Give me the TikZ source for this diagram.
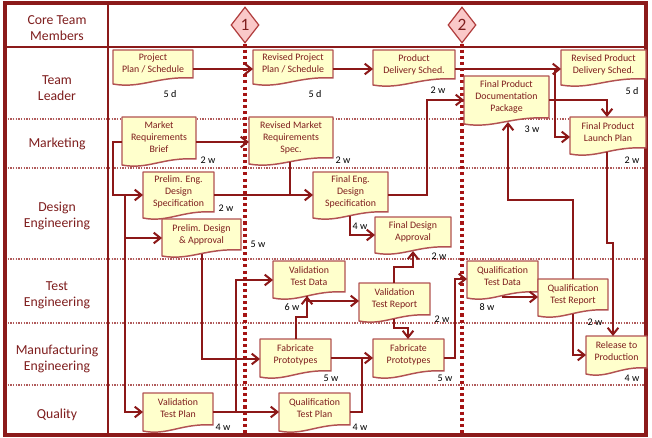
\documentclass[tikz,border=0pt]{standalone}
\usepackage{fontspec}
\setmainfont{Carlito}
\usetikzlibrary{arrows.meta,shapes.geometric}
\definecolor{cframe}{RGB}{139,26,26}
\definecolor{ctxt}{RGB}{127,30,30}
\definecolor{cdocfill}{RGB}{255,255,204}
\definecolor{cdocline}{RGB}{178,82,82}
\definecolor{cconn}{RGB}{140,24,24}
\definecolor{cmsfill}{RGB}{250,200,200}
\definecolor{cmsline}{RGB}{176,60,60}
\definecolor{clanesep}{RGB}{176,90,90}
\definecolor{cmsdot}{RGB}{165,20,20}
\tikzset{
  docshape/.style={fill=cdocfill, draw=cdocline, line width=1.1pt, line join=round},
  doctext/.style={inner sep=0pt, outer sep=0pt, align=center, text=ctxt, font=\fontsize{7.4}{9}\selectfont},
  lanelabel/.style={align=center, text=ctxt, font=\fontsize{10.3}{12}\selectfont},
  durlabel/.style={inner sep=0pt, text=black, font=\fontsize{7.6}{9}\selectfont},
  arrowline/.style={draw=cconn, line width=1.5pt, -{Straight Barb[length=5pt,width=8pt]}},
  plainline/.style={draw=cconn, line width=1.5pt},
  lanesepline/.style={draw=clanesep, line width=0.9pt, dash pattern=on 0.9pt off 1.1pt},
  msdotline/.style={draw=cmsdot, line width=2.3pt, dash pattern=on 2.3pt off 2.3pt},
  framel/.style={draw=cframe, line width=2.3pt},
  msdia/.style={diamond, draw=cmsline, fill=cmsfill, line width=0.9pt, minimum width=21pt, minimum height=27pt, inner sep=0pt, text=ctxt, font=\fontsize{13}{13}\selectfont}
}
\newcommand\mydoc[6]{%
  \draw[docshape] (#2,#3) -- (#4,#3) -- (#4,#5-6) .. controls ({#2+0.55*(#4-#2)},#5-8) and ({#2+0.35*(#4-#2)},#5+5) .. (#2,#5) -- cycle;
  \pgfmathsetmacro\mdw{(#4-#2)*0.75}%
  \pgfmathsetmacro\mdh{(#5-2-#3)*0.75}%
  \node[doctext, minimum width=\mdw pt, minimum height=\mdh pt] (#1) at ({(#2+#4)/2},{(#3+#5-2)/2}) {#6\rule[-4pt]{0pt}{4pt}};
}
\begin{document}
\begin{tikzpicture}[x=0.75pt,y=-0.75pt]
\useasboundingbox (0,0) rectangle (652,438);
\fill[white] (0,0) rectangle (652,438);
% lane separators
\foreach \yy in {119,168,259,323,385} \draw[lanesepline] (5,\yy) -- (646,\yy);
% frame
\draw[framel] (5,3) rectangle (646,435);
\draw[framel, line width=2pt] (5,47) -- (646,47);
\draw[framel, line width=2pt] (108,3) -- (108,435);
% milestones
\node[msdia] (ms1) at (245,25) {1};
\node[msdia] (ms2) at (462,25) {2};
\coordinate (ms1end) at (245,434);
\coordinate (ms2end) at (462,434);
\draw[msdotline] (ms1.south) -- (ms1end);
\draw[msdotline] (ms2.south) -- (ms2end);
% lane labels
\node[lanelabel] (l0) at (57,28) {Core Team\\Members};
\node[lanelabel] (l1) at (57,88) {Team\\Leader};
\node[lanelabel] (l2) at (57,144) {Marketing};
\node[lanelabel] (l3) at (57,216) {Design\\Engineering};
\node[lanelabel] (l4) at (57,295) {Test\\Engineering};
\node[lanelabel] (l5) at (57,359) {Manufacturing\\Engineering};
\node[lanelabel] (l6) at (57,415) {Quality};
% documents
\mydoc{pp}{113}{50}{193}{84}{Project\\Plan / Schedule}
\mydoc{rpp}{253}{50}{333}{84}{Revised Project\\Plan / Schedule}
\mydoc{pds}{373}{50}{455}{85}{Product\\Delivery Sched.}
\mydoc{rpds}{561}{50}{646}{85}{Revised Product\\Delivery Sched.}
\mydoc{fpdp}{464}{76}{549}{124}{Final Product\\Documentation\\Package}
\mydoc{mrb}{122}{117}{196}{165}{Market\\Requirements\\Brief}
\mydoc{rmrs}{249}{117}{333}{164}{Revised Market\\Requirements\\Spec.}
\mydoc{fplp}{570}{117}{646}{154}{Final Product\\Launch Plan}
\mydoc{pes}{143}{172}{214}{218}{Prelim. Eng.\\Design\\Specification}
\mydoc{pda}{162}{219}{241}{256}{Prelim. Design\\\& Approval}
\mydoc{fes}{313}{172}{388}{218}{Final Eng.\\Design\\Specification}
\mydoc{fda}{375}{217}{451}{253}{Final Design\\Approval}
\mydoc{vtd}{273}{261}{345}{298}{Validation\\Test Data}
\mydoc{vtr}{359}{283}{430}{321}{Validation\\Test Report}
\mydoc{qtd}{467}{261}{538}{298}{Qualification\\Test Data}
\mydoc{qtr}{538}{279}{608}{316}{Qualification\\Test Report}
\mydoc{fpa}{260}{339}{331}{377}{Fabricate\\Prototypes}
\mydoc{fpb}{373}{339}{444}{377}{Fabricate\\Prototypes}
\mydoc{rtp}{586}{336}{647}{374}{Release to\\Production}
\mydoc{vtp}{143}{393}{213}{431}{Validation\\Test Plan}
\mydoc{qtp}{279}{393}{350}{431}{Qualification\\Test Plan}
% durations
\node[durlabel] (dpp) at (170,94) {5 d};
\node[durlabel] (drpp) at (315,94) {5 d};
\node[durlabel] (dpds) at (438,90) {2 w};
\node[durlabel] (drpds) at (632,91) {5 d};
\node[durlabel] (dfpdp) at (532,129) {3 w};
\node[durlabel] (dmrb) at (208,160) {2 w};
\node[durlabel] (drmrs) at (343,160) {2 w};
\node[durlabel] (dfplp) at (632,160) {2 w};
\node[durlabel] (dpes) at (226,208) {2 w};
\node[durlabel] (dpda) at (258,244) {5 w};
\node[durlabel] (dfes) at (360,226) {4 w};
\node[durlabel] (dfda) at (439,256) {2 w};
\node[durlabel] (dvtd) at (292,307) {6 w};
\node[durlabel] (dvtr) at (442,319) {2 w};
\node[durlabel] (dqtd) at (487,307) {8 w};
\node[durlabel] (dqtr) at (595,322) {2 w};
\node[durlabel] (dfpa) at (331,378) {5 w};
\node[durlabel] (dfpb) at (445,378) {5 w};
\node[durlabel] (drtp) at (632,378) {4 w};
\node[durlabel] (dvtp) at (223,427) {4 w};
\node[durlabel] (dqtp) at (360,427) {4 w};
% connectors
\draw[arrowline] (pp.east |- 0,69) -- (rpp.west |- 0,69);
\draw[arrowline] (rpp.east |- 0,69) -- (pds.west |- 0,69);
\draw[arrowline] (pds.east |- 0,69) -- (rpds.west |- 0,69);
\draw[arrowline] (555,69) |- (fplp.west |- 0,137);
\draw[arrowline] (fpdp.east |- 0,100) -| (fplp.north -| 607,0);
\draw[arrowline] (fes.east |- 0,195) -- (427,195) |- (fpdp.west |- 0,100);
\draw[arrowline] (qtr.north -| 573,0) -- (573,200) -| (fpdp.south -| 508,0);
\draw[arrowline] (fplp.south -| 607,0) -- (607,243) -- (613,243) -- (rtp.north -| 613,0);
\draw[arrowline] (qtr.south -| 573,0) |- (rtp.west |- 0,355);
\draw[arrowline] (qtd.south -| 503,0) |- (qtr.west |- 0,297);
\draw[arrowline] (fpb.east |- 0,358) -- (455,358) |- (qtd.west |- 0,279);
\draw[arrowline] (vtr.south -| 394,0) -- (394,328) -| (fpb.north -| 408,0);
\draw[arrowline] (vtr.north -| 394,0) -- (394,267) -| (fda.south -| 413,0);
\draw[arrowline] (fpa.north -| 296,0) -- (296,317) -| (vtd.south -| 307,0);
\draw[arrowline] (vtd.south -| 307,0) |- (vtr.west |- 0,301);
\draw[arrowline] (fes.south -| 350,0) |- (fda.west |- 0,235);
\draw[arrowline] (pes.east |- 0,195) -- (fes.west |- 0,195);
\draw[plainline] (rmrs.south -| 290,0) -- (290,195);
\draw[arrowline] (mrb.east |- 0,142) -- (rmrs.west |- 0,142);
\draw[arrowline] (mrb.west |- 0,142) -- (113,142) |- (pes.west |- 0,195);
\draw[arrowline] (125,195) |- (pda.west |- 0,238);
\draw[arrowline] (125,238) |- (vtp.west |- 0,412);
\draw[arrowline] (pda.south -| 202,0) |- (fpa.west |- 0,359);
\draw[arrowline] (vtp.east |- 0,412) -- (qtp.west |- 0,412);
\draw[arrowline] (236,412) |- (vtd.west |- 0,280);
\draw[arrowline] (fpa.east |- 0,358) -- (fpb.west |- 0,358);
\draw[plainline] (qtp.east |- 0,412) -| (362,358);
\end{tikzpicture}
\end{document}
